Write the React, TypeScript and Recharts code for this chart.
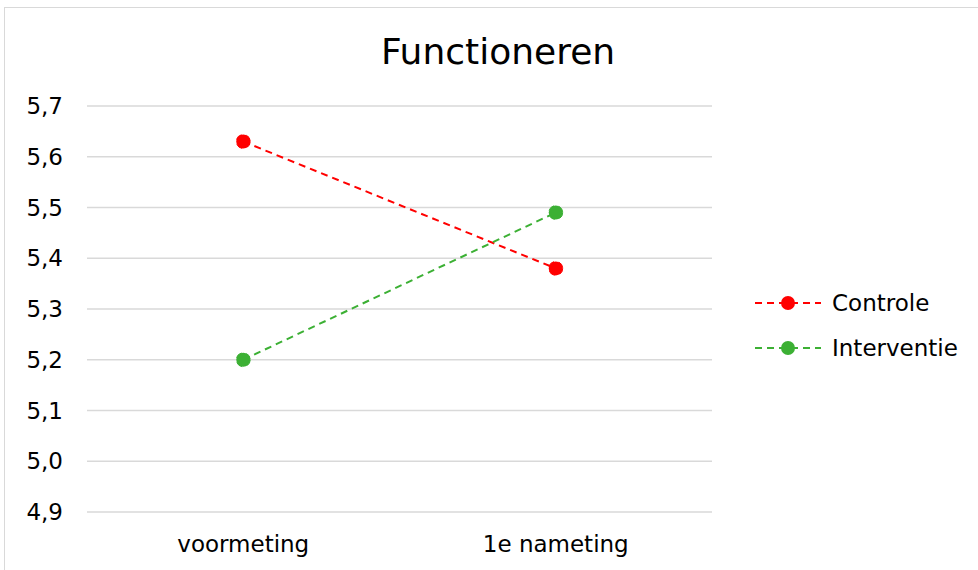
import { LineChart, Line, XAxis, YAxis, CartesianGrid, Legend } from 'recharts';

const categories = ['voormeting', '1e nameting'];
const controle = [5.63, 5.38];
const interventie = [5.2, 5.49];
const yTicks = [4.9, 5.0, 5.1, 5.2, 5.3, 5.4, 5.5, 5.6, 5.7];

const data = categories.map((name, i) => ({
  name,
  Controle: controle[i],
  Interventie: interventie[i],
}));

const FONT = '"DejaVu Sans", Verdana, sans-serif';

const renderLegend = (props: any) => {
  const { payload } = props;
  return (
    <div style={{ fontFamily: FONT, fontSize: 23, color: '#000' }}>
      {payload.map((entry: any) => (
        <div key={entry.value} style={{ display: 'flex', alignItems: 'center', height: 45 }}>
          <svg width={66} height={16} style={{ marginRight: 11 }}>
            <line x1={0} y1={8} x2={66} y2={8} stroke={entry.color} strokeWidth={2} strokeDasharray="7 5" />
            <circle cx={33} cy={8} r={7} fill={entry.color} />
          </svg>
          <span>{entry.value}</span>
        </div>
      ))}
    </div>
  );
};

export default function App() {
  return (
    <div style={{ position: 'fixed', left: 0, top: 0, width: 978, height: 570, overflow: 'hidden', background: '#fff' }}>
      {/* chart frame */}
      <div style={{ position: 'absolute', left: 4, top: 7, width: 1000, height: 600, border: '1.5px solid #d9d9d9' }} />
      <div
        style={{
          position: 'absolute', left: 0, width: 996, top: 31, textAlign: 'center',
          fontFamily: FONT, fontSize: 36, color: '#000',
        }}
      >
        Functioneren
      </div>
      <div style={{ position: 'absolute', left: 0, top: 0 }}>
        <LineChart width={978} height={570} data={data} margin={{ top: 106, right: 43, bottom: 28, left: 0 }}>
          <CartesianGrid horizontal vertical={false} stroke="#d9d9d9" strokeWidth={1.5} />
          <XAxis
            dataKey="name"
            scale="band"
            height={30}
            axisLine={false}
            tickLine={false}
            tickMargin={18}
            tick={{ fill: '#000', fontSize: 23, fontFamily: FONT }}
          />
          <YAxis
            width={87}
            domain={[4.9, 5.7]}
            ticks={yTicks}
            interval={0}
            axisLine={false}
            tickLine={false}
            tickMargin={18}
            tickFormatter={(v: number) => v.toFixed(1).replace('.', ',')}
            tick={{ fill: '#000', fontSize: 23, fontFamily: FONT }}
          />
          <Legend
            layout="vertical"
            align="right"
            verticalAlign="top"
            content={renderLegend}
            wrapperStyle={{ left: 755, top: 280, width: 223 }}
          />
          <Line
            dataKey="Controle"
            stroke="#ff0000"
            strokeWidth={2}
            strokeDasharray="7 5"
            dot={{ r: 7, fill: '#ff0000', stroke: '#ff0000', strokeWidth: 1 }}
            isAnimationActive={false}
          />
          <Line
            dataKey="Interventie"
            stroke="#3cb034"
            strokeWidth={2}
            strokeDasharray="7 5"
            dot={{ r: 7, fill: '#3cb034', stroke: '#3cb034', strokeWidth: 1 }}
            isAnimationActive={false}
          />
        </LineChart>
      </div>
    </div>
  );
}
